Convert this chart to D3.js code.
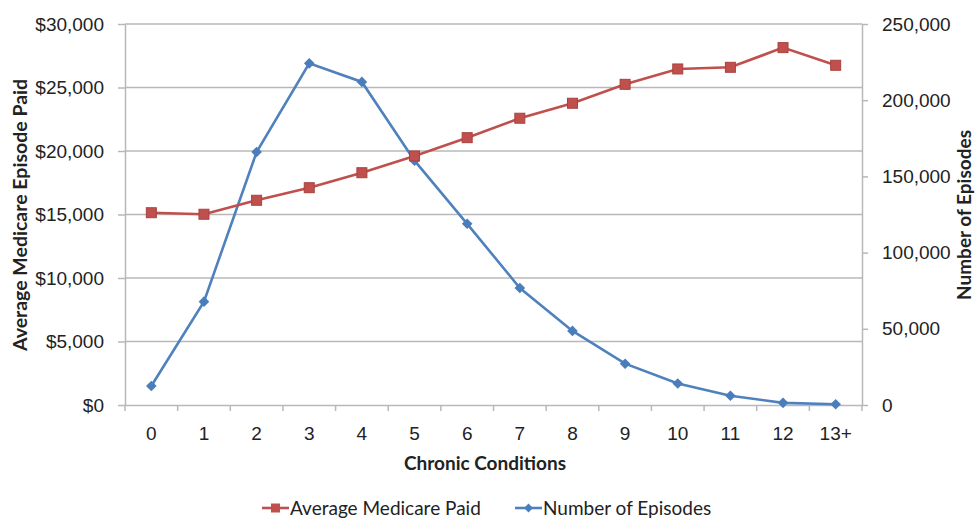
<!DOCTYPE html>
<html>
<head>
<meta charset="utf-8">
<script src="https://cdn.jsdelivr.net/npm/d3@7"></script>
<style>
  body { margin: 0; background: #fff; }
  svg { font-family: Lato, "Open Sans", sans-serif; }
</style>
</head>
<body>
<svg width="978" height="519"></svg>
<script>
const categories = ['0', '1', '2', '3', '4', '5', '6', '7', '8', '9', '10', '11', '12', '13+']
const avgPaid = [15140, 15020, 16120, 17110, 18290, 19610, 21050, 22580, 23760, 25250, 26460, 26590, 28140, 26750]
const episodes = [12500, 67800, 166000, 224200, 212000, 160300, 118900, 76800, 48600, 27100, 14100, 6100, 1400, 500]
const leftTicks = [0, 5000, 10000, 15000, 20000, 25000, 30000]
const rightTicks = [0, 50000, 100000, 150000, 200000, 250000]

const red = '#C0504D'
const blue = '#4F81BD'
const grid = '#B8B8B8'
const ink = '#222'

const svg = d3.select('svg')
const plotLeft = 125, plotRight = 862, plotTop = 24, plotBottom = 405

const x = d3.scaleBand().domain(categories).range([plotLeft, plotRight])
const yLeft = d3.scaleLinear().domain([0, 30000]).range([plotBottom, plotTop])
const yRight = d3.scaleLinear().domain([0, 250000]).range([plotBottom, plotTop])

// gridlines follow the left axis
svg.append('g').selectAll('line').data(leftTicks.slice(1)).join('line')
    .attr('x1', plotLeft).attr('x2', plotRight)
    .attr('y1', d => yLeft(d)).attr('y2', d => yLeft(d))
    .attr('stroke', grid).attr('stroke-width', 1.5)

// left axis
const gl = svg.append('g').attr('transform', `translate(${plotLeft},0)`)
    .call(d3.axisLeft(yLeft).tickValues(leftTicks).tickSizeInner(7).tickSizeOuter(0).tickPadding(14)
        .tickFormat(d => '$' + d3.format(',')(d)))
// right axis
const gr = svg.append('g').attr('transform', `translate(${plotRight},0)`)
    .call(d3.axisRight(yRight).tickValues(rightTicks).tickSizeInner(6).tickSizeOuter(0).tickPadding(14)
        .tickFormat(d3.format(',')))
// bottom axis: labels at band centres, ticks between bands
const gb = svg.append('g').attr('transform', `translate(0,${plotBottom})`)
    .call(d3.axisBottom(x).tickSize(0).tickPadding(28))
gb.selectAll('.tickmark').data(categories.concat(['end'])).join('line')
    .attr('class', 'tickmark')
    .attr('x1', d => d === 'end' ? plotRight : x(d)).attr('x2', d => d === 'end' ? plotRight : x(d))
    .attr('y1', 0).attr('y2', 6)

;[gl, gr, gb].forEach(g => {
    g.selectAll('path.domain').attr('stroke', grid).attr('stroke-width', 1.5)
    g.selectAll('line').attr('stroke', grid).attr('stroke-width', 1.5)
    g.selectAll('text').attr('font-size', 19).attr('fill', ink)
})
gb.selectAll('.tick text').attr('dy', '0.35em')

const cx = d => x(d) + x.bandwidth() / 2

// number of episodes (right axis)
svg.append('path').datum(episodes)
    .attr('fill', 'none').attr('stroke', blue).attr('stroke-width', 2.6)
    .attr('d', d3.line().x((d, i) => cx(categories[i])).y(d => yRight(d)))
svg.append('g').selectAll('path').data(episodes).join('path')
    .attr('d', d3.symbol(d3.symbolDiamond2, 72))
    .attr('transform', (d, i) => `translate(${cx(categories[i])},${yRight(d)})`)
    .attr('fill', '#4A7EBB')

// average medicare paid (left axis)
svg.append('path').datum(avgPaid)
    .attr('fill', 'none').attr('stroke', red).attr('stroke-width', 2.6)
    .attr('d', d3.line().x((d, i) => cx(categories[i])).y(d => yLeft(d)))
svg.append('g').selectAll('rect').data(avgPaid).join('rect')
    .attr('x', (d, i) => cx(categories[i]) - 5).attr('y', d => yLeft(d) - 5)
    .attr('width', 10).attr('height', 10)
    .attr('fill', red).attr('stroke', '#A9413E').attr('stroke-width', 1)

// axis titles
svg.append('text').attr('transform', 'translate(20,215) rotate(-90)')
    .attr('text-anchor', 'middle').attr('dy', '0.35em')
    .attr('font-size', 19.5).attr('font-weight', 'bold').attr('fill', ink)
    .text('Average Medicare Episode Paid')
svg.append('text').attr('transform', 'translate(964,215) rotate(-90)')
    .attr('text-anchor', 'middle').attr('dy', '0.35em')
    .attr('font-size', 19).attr('font-weight', 'bold').attr('fill', ink)
    .text('Number of Episodes')
svg.append('text').attr('x', 485).attr('y', 470)
    .attr('text-anchor', 'middle').attr('font-size', 19).attr('font-weight', 'bold').attr('fill', ink)
    .text('Chronic Conditions')

// legend
const legend = svg.append('g').attr('transform', 'translate(0,508)')
const items = [
    { label: 'Average Medicare Paid', color: red, x: 262, shape: 'square' },
    { label: 'Number of Episodes', color: blue, x: 515, shape: 'diamond' }
]
items.forEach(item => {
    const g = legend.append('g').attr('transform', `translate(${item.x},0)`)
    g.append('line').attr('x1', 0).attr('x2', 27).attr('stroke', item.color).attr('stroke-width', 2.6)
    if (item.shape === 'square')
        g.append('rect').attr('x', 9).attr('y', -4.5).attr('width', 9).attr('height', 9).attr('fill', item.color)
    else
        g.append('path').attr('d', d3.symbol(d3.symbolDiamond2, 50)).attr('transform', 'translate(13.5,0)').attr('fill', '#4A7EBB')
    g.append('text').attr('x', 28).attr('dy', '0.35em').attr('font-size', 19).attr('fill', ink).text(item.label)
})
</script>
</body>
</html>
